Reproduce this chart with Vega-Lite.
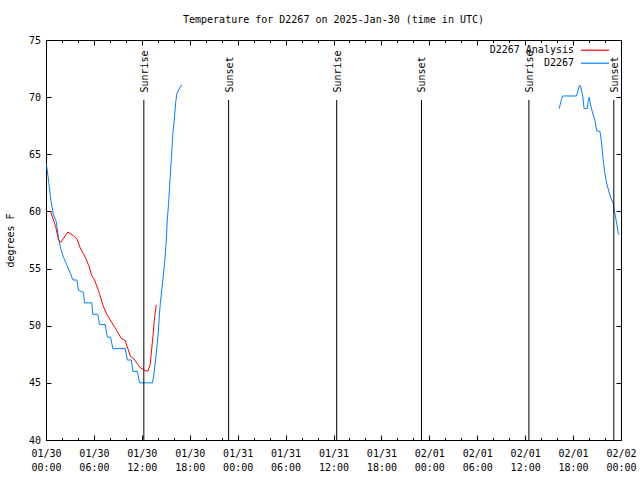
{
  "$schema": "https://vega.github.io/schema/vega-lite/v6.json",
  "autosize": "none",
  "width": 575,
  "height": 400,
  "padding": {"left": 46, "top": 40, "right": 19, "bottom": 40},
  "background": "white",
  "title": {"text": "Temperature for D2267 on 2025-Jan-30 (time in UTC)", "font": "DejaVu Sans Mono", "fontSize": 10, "fontWeight": "normal", "anchor": "middle", "offset": 10, "color": "black"},
  "datasets": {
    "obs": [
      {"t": "2025-01-30T00:04Z", "v": 64.1, "s": "D2267", "g": 1},
      {"t": "2025-01-30T00:19Z", "v": 62.7, "s": "D2267", "g": 1},
      {"t": "2025-01-30T00:36Z", "v": 61.0, "s": "D2267", "g": 1},
      {"t": "2025-01-30T00:56Z", "v": 59.7, "s": "D2267", "g": 1},
      {"t": "2025-01-30T01:17Z", "v": 59.1, "s": "D2267", "g": 1},
      {"t": "2025-01-30T01:34Z", "v": 57.7, "s": "D2267", "g": 1},
      {"t": "2025-01-30T01:47Z", "v": 56.9, "s": "D2267", "g": 1},
      {"t": "2025-01-30T02:11Z", "v": 56.0, "s": "D2267", "g": 1},
      {"t": "2025-01-30T02:37Z", "v": 55.3, "s": "D2267", "g": 1},
      {"t": "2025-01-30T03:02Z", "v": 54.6, "s": "D2267", "g": 1},
      {"t": "2025-01-30T03:22Z", "v": 54.0, "s": "D2267", "g": 1},
      {"t": "2025-01-30T03:52Z", "v": 54.0, "s": "D2267", "g": 1},
      {"t": "2025-01-30T04:04Z", "v": 53.1, "s": "D2267", "g": 1},
      {"t": "2025-01-30T04:42Z", "v": 52.9, "s": "D2267", "g": 1},
      {"t": "2025-01-30T04:49Z", "v": 52.0, "s": "D2267", "g": 1},
      {"t": "2025-01-30T05:44Z", "v": 52.0, "s": "D2267", "g": 1},
      {"t": "2025-01-30T05:52Z", "v": 51.0, "s": "D2267", "g": 1},
      {"t": "2025-01-30T06:29Z", "v": 51.0, "s": "D2267", "g": 1},
      {"t": "2025-01-30T06:42Z", "v": 50.1, "s": "D2267", "g": 1},
      {"t": "2025-01-30T07:25Z", "v": 50.1, "s": "D2267", "g": 1},
      {"t": "2025-01-30T07:40Z", "v": 49.0, "s": "D2267", "g": 1},
      {"t": "2025-01-30T08:05Z", "v": 49.0, "s": "D2267", "g": 1},
      {"t": "2025-01-30T08:22Z", "v": 48.0, "s": "D2267", "g": 1},
      {"t": "2025-01-30T09:55Z", "v": 48.0, "s": "D2267", "g": 1},
      {"t": "2025-01-30T10:11Z", "v": 47.0, "s": "D2267", "g": 1},
      {"t": "2025-01-30T10:41Z", "v": 47.0, "s": "D2267", "g": 1},
      {"t": "2025-01-30T10:53Z", "v": 46.0, "s": "D2267", "g": 1},
      {"t": "2025-01-30T11:26Z", "v": 46.0, "s": "D2267", "g": 1},
      {"t": "2025-01-30T11:43Z", "v": 45.0, "s": "D2267", "g": 1},
      {"t": "2025-01-30T13:19Z", "v": 45.0, "s": "D2267", "g": 1},
      {"t": "2025-01-30T13:28Z", "v": 45.5, "s": "D2267", "g": 1},
      {"t": "2025-01-30T13:43Z", "v": 47.0, "s": "D2267", "g": 1},
      {"t": "2025-01-30T14:01Z", "v": 49.0, "s": "D2267", "g": 1},
      {"t": "2025-01-30T14:13Z", "v": 51.1, "s": "D2267", "g": 1},
      {"t": "2025-01-30T14:19Z", "v": 52.0, "s": "D2267", "g": 1},
      {"t": "2025-01-30T14:38Z", "v": 54.0, "s": "D2267", "g": 1},
      {"t": "2025-01-30T14:51Z", "v": 55.5, "s": "D2267", "g": 1},
      {"t": "2025-01-30T15:04Z", "v": 57.5, "s": "D2267", "g": 1},
      {"t": "2025-01-30T15:11Z", "v": 59.2, "s": "D2267", "g": 1},
      {"t": "2025-01-30T15:21Z", "v": 60.7, "s": "D2267", "g": 1},
      {"t": "2025-01-30T15:29Z", "v": 62.2, "s": "D2267", "g": 1},
      {"t": "2025-01-30T15:36Z", "v": 63.6, "s": "D2267", "g": 1},
      {"t": "2025-01-30T15:46Z", "v": 65.4, "s": "D2267", "g": 1},
      {"t": "2025-01-30T15:53Z", "v": 66.8, "s": "D2267", "g": 1},
      {"t": "2025-01-30T16:04Z", "v": 68.0, "s": "D2267", "g": 1},
      {"t": "2025-01-30T16:14Z", "v": 69.5, "s": "D2267", "g": 1},
      {"t": "2025-01-30T16:23Z", "v": 70.3, "s": "D2267", "g": 1},
      {"t": "2025-01-30T16:44Z", "v": 70.8, "s": "D2267", "g": 1},
      {"t": "2025-01-30T17:01Z", "v": 71.1, "s": "D2267", "g": 1},
      {"t": "2025-01-30T00:34Z", "v": 60.0, "s": "D2267 Analysis", "g": 2},
      {"t": "2025-01-30T01:12Z", "v": 58.7, "s": "D2267 Analysis", "g": 2},
      {"t": "2025-01-30T01:34Z", "v": 57.5, "s": "D2267 Analysis", "g": 2},
      {"t": "2025-01-30T01:51Z", "v": 57.3, "s": "D2267 Analysis", "g": 2},
      {"t": "2025-01-30T02:44Z", "v": 58.2, "s": "D2267 Analysis", "g": 2},
      {"t": "2025-01-30T03:27Z", "v": 57.85, "s": "D2267 Analysis", "g": 2},
      {"t": "2025-01-30T03:52Z", "v": 57.6, "s": "D2267 Analysis", "g": 2},
      {"t": "2025-01-30T04:17Z", "v": 56.8, "s": "D2267 Analysis", "g": 2},
      {"t": "2025-01-30T04:55Z", "v": 56.0, "s": "D2267 Analysis", "g": 2},
      {"t": "2025-01-30T05:20Z", "v": 55.3, "s": "D2267 Analysis", "g": 2},
      {"t": "2025-01-30T05:44Z", "v": 54.4, "s": "D2267 Analysis", "g": 2},
      {"t": "2025-01-30T06:05Z", "v": 54.0, "s": "D2267 Analysis", "g": 2},
      {"t": "2025-01-30T06:42Z", "v": 52.8, "s": "D2267 Analysis", "g": 2},
      {"t": "2025-01-30T07:07Z", "v": 51.8, "s": "D2267 Analysis", "g": 2},
      {"t": "2025-01-30T07:33Z", "v": 51.1, "s": "D2267 Analysis", "g": 2},
      {"t": "2025-01-30T07:57Z", "v": 50.6, "s": "D2267 Analysis", "g": 2},
      {"t": "2025-01-30T08:35Z", "v": 49.9, "s": "D2267 Analysis", "g": 2},
      {"t": "2025-01-30T09:25Z", "v": 48.9, "s": "D2267 Analysis", "g": 2},
      {"t": "2025-01-30T09:55Z", "v": 48.7, "s": "D2267 Analysis", "g": 2},
      {"t": "2025-01-30T10:15Z", "v": 48.0, "s": "D2267 Analysis", "g": 2},
      {"t": "2025-01-30T10:35Z", "v": 47.3, "s": "D2267 Analysis", "g": 2},
      {"t": "2025-01-30T11:00Z", "v": 47.1, "s": "D2267 Analysis", "g": 2},
      {"t": "2025-01-30T11:30Z", "v": 46.6, "s": "D2267 Analysis", "g": 2},
      {"t": "2025-01-30T11:51Z", "v": 46.3, "s": "D2267 Analysis", "g": 2},
      {"t": "2025-01-30T12:21Z", "v": 46.1, "s": "D2267 Analysis", "g": 2},
      {"t": "2025-01-30T12:45Z", "v": 46.0, "s": "D2267 Analysis", "g": 2},
      {"t": "2025-01-30T13:03Z", "v": 46.6, "s": "D2267 Analysis", "g": 2},
      {"t": "2025-01-30T13:11Z", "v": 47.6, "s": "D2267 Analysis", "g": 2},
      {"t": "2025-01-30T13:23Z", "v": 49.0, "s": "D2267 Analysis", "g": 2},
      {"t": "2025-01-30T13:36Z", "v": 50.8, "s": "D2267 Analysis", "g": 2},
      {"t": "2025-01-30T13:49Z", "v": 51.8, "s": "D2267 Analysis", "g": 2},
      {"t": "2025-02-01T16:16Z", "v": 69.0, "s": "D2267", "g": 3},
      {"t": "2025-02-01T16:28Z", "v": 69.6, "s": "D2267", "g": 3},
      {"t": "2025-02-01T16:41Z", "v": 70.1, "s": "D2267", "g": 3},
      {"t": "2025-02-01T18:26Z", "v": 70.1, "s": "D2267", "g": 3},
      {"t": "2025-02-01T18:46Z", "v": 71.0, "s": "D2267", "g": 3},
      {"t": "2025-02-01T18:56Z", "v": 71.0, "s": "D2267", "g": 3},
      {"t": "2025-02-01T19:11Z", "v": 70.2, "s": "D2267", "g": 3},
      {"t": "2025-02-01T19:23Z", "v": 69.0, "s": "D2267", "g": 3},
      {"t": "2025-02-01T19:46Z", "v": 69.0, "s": "D2267", "g": 3},
      {"t": "2025-02-01T19:53Z", "v": 69.6, "s": "D2267", "g": 3},
      {"t": "2025-02-01T20:01Z", "v": 70.0, "s": "D2267", "g": 3},
      {"t": "2025-02-01T20:12Z", "v": 69.3, "s": "D2267", "g": 3},
      {"t": "2025-02-01T20:27Z", "v": 68.6, "s": "D2267", "g": 3},
      {"t": "2025-02-01T20:44Z", "v": 68.0, "s": "D2267", "g": 3},
      {"t": "2025-02-01T20:57Z", "v": 67.05, "s": "D2267", "g": 3},
      {"t": "2025-02-01T21:22Z", "v": 67.0, "s": "D2267", "g": 3},
      {"t": "2025-02-01T21:34Z", "v": 66.0, "s": "D2267", "g": 3},
      {"t": "2025-02-01T21:46Z", "v": 64.5, "s": "D2267", "g": 3},
      {"t": "2025-02-01T21:59Z", "v": 63.3, "s": "D2267", "g": 3},
      {"t": "2025-02-01T22:12Z", "v": 62.5, "s": "D2267", "g": 3},
      {"t": "2025-02-01T22:32Z", "v": 61.6, "s": "D2267", "g": 3},
      {"t": "2025-02-01T22:50Z", "v": 61.0, "s": "D2267", "g": 3},
      {"t": "2025-02-01T23:02Z", "v": 60.7, "s": "D2267", "g": 3},
      {"t": "2025-02-01T23:14Z", "v": 59.8, "s": "D2267", "g": 3},
      {"t": "2025-02-01T23:27Z", "v": 59.0, "s": "D2267", "g": 3},
      {"t": "2025-02-01T23:39Z", "v": 58.1, "s": "D2267", "g": 3},
      {"t": "2025-02-01T23:47Z", "v": 57.95, "s": "D2267", "g": 3}
    ],
    "events": [
      {"t": "2025-01-30T12:15Z", "label": "Sunrise"},
      {"t": "2025-01-30T22:52Z", "label": "Sunset"},
      {"t": "2025-01-31T12:24Z", "label": "Sunrise"},
      {"t": "2025-01-31T23:01Z", "label": "Sunset"},
      {"t": "2025-02-01T12:28Z", "label": "Sunrise"},
      {"t": "2025-02-01T23:06Z", "label": "Sunset"}
    ]
  },
  "layer": [
    {
      "data": {"name": "obs"},
      "mark": {"type": "line", "strokeWidth": 1},
      "encoding": {
        "x": {
          "field": "t", "type": "temporal",
          "scale": {"type": "utc", "nice": false, "domain": [{"year": 2025, "month": 1, "date": 30, "hours": 0, "utc": true}, {"year": 2025, "month": 2, "date": 2, "hours": 0, "utc": true}]},
          "axis": {
            "orient": "bottom", "title": null,
            "values": [1738195200000, 1738202400000, 1738209600000, 1738216800000, 1738224000000, 1738231200000, 1738238400000, 1738245600000, 1738252800000, 1738260000000, 1738267200000, 1738274400000, 1738281600000, 1738288800000, 1738296000000, 1738303200000, 1738310400000, 1738317600000, 1738324800000, 1738332000000, 1738339200000, 1738346400000, 1738353600000, 1738360800000, 1738368000000, 1738375200000, 1738382400000, 1738389600000, 1738396800000, 1738404000000, 1738411200000, 1738418400000, 1738425600000, 1738432800000, 1738440000000, 1738447200000, 1738454400000],
            "labelExpr": "utchours(datum.value) % 6 === 0 ? [utcFormat(datum.value, '%m/%d'), utcFormat(datum.value, '%H:%M')] : ''",
            "tickSize": {"condition": {"test": "utchours(datum.value) % 6 === 0", "value": -5}, "value": -2.5},
            "labelPadding": 13, "labelLineHeight": 14, "labelBaseline": "top",
            "labelFlush": false, "labelOverlap": false
          }
        },
        "y": {
          "field": "v", "type": "quantitative",
          "scale": {"domain": [40, 75], "nice": false, "zero": false},
          "axis": {"orient": "left", "values": [40, 45, 50, 55, 60, 65, 70, 75], "tickSize": -5, "labelPadding": 10.5, "title": "degrees F", "titleAngle": 270, "titleX": -36, "titleY": 200, "titleBaseline": "middle", "titleAlign": "center", "labelOverlap": false, "labelFlush": false}
        },
        "color": {
          "field": "s", "type": "nominal",
          "scale": {"domain": ["D2267 Analysis", "D2267"], "range": ["#ff0000", "#0080ff"]},
          "legend": {"orient": "none", "legendX": 544, "legendY": 5.2, "title": null, "symbolType": "M-4,0H4", "symbolSize": 49, "symbolStrokeWidth": 1.2, "symbolOpacity": 1, "labelAlign": "right", "labelOffset": -26, "labelFont": "DejaVu Sans Mono", "labelFontSize": 10, "labelColor": "black", "rowPadding": 3, "padding": 0}
        },
        "detail": {"field": "g", "type": "nominal"}
      }
    },
    {
      "data": {"name": "events"},
      "mark": {"type": "rule", "color": "black", "strokeWidth": 1},
      "encoding": {
        "x": {
          "field": "t", "type": "temporal",
          "axis": {"orient": "top", "title": null, "labels": false,
            "values": [1738195200000, 1738202400000, 1738209600000, 1738216800000, 1738224000000, 1738231200000, 1738238400000, 1738245600000, 1738252800000, 1738260000000, 1738267200000, 1738274400000, 1738281600000, 1738288800000, 1738296000000, 1738303200000, 1738310400000, 1738317600000, 1738324800000, 1738332000000, 1738339200000, 1738346400000, 1738353600000, 1738360800000, 1738368000000, 1738375200000, 1738382400000, 1738389600000, 1738396800000, 1738404000000, 1738411200000, 1738418400000, 1738425600000, 1738432800000, 1738440000000, 1738447200000, 1738454400000],
            "tickSize": {"condition": {"test": "utchours(datum.value) % 6 === 0", "value": -5}, "value": -2.5}}
        },
        "y": {"datum": 40, "type": "quantitative", "axis": {"orient": "right", "title": null, "labels": false, "values": [40, 45, 50, 55, 60, 65, 70, 75], "tickSize": -5}},
        "y2": {"datum": 69.75}
      }
    },
    {
      "data": {"name": "events"},
      "mark": {"type": "text", "angle": 270, "align": "left", "baseline": "middle", "dx": -52.5, "dy": 1, "font": "DejaVu Sans Mono", "fontSize": 10, "color": "black"},
      "encoding": {
        "x": {"field": "t", "type": "temporal", "axis": null},
        "y": {"datum": 75, "type": "quantitative", "axis": null},
        "text": {"field": "label"}
      }
    }
  ],
  "resolve": {"axis": {"x": "independent", "y": "independent"}},
  "config": {
    "font": "DejaVu Sans Mono",
    "view": {"stroke": "black", "strokeWidth": 1},
    "axis": {"grid": false, "domainColor": "black", "tickColor": "black", "labelColor": "black", "labelFont": "DejaVu Sans Mono", "labelFontSize": 10, "titleFont": "DejaVu Sans Mono", "titleFontSize": 10, "titleFontWeight": "normal", "titleColor": "black"}
  }
}
